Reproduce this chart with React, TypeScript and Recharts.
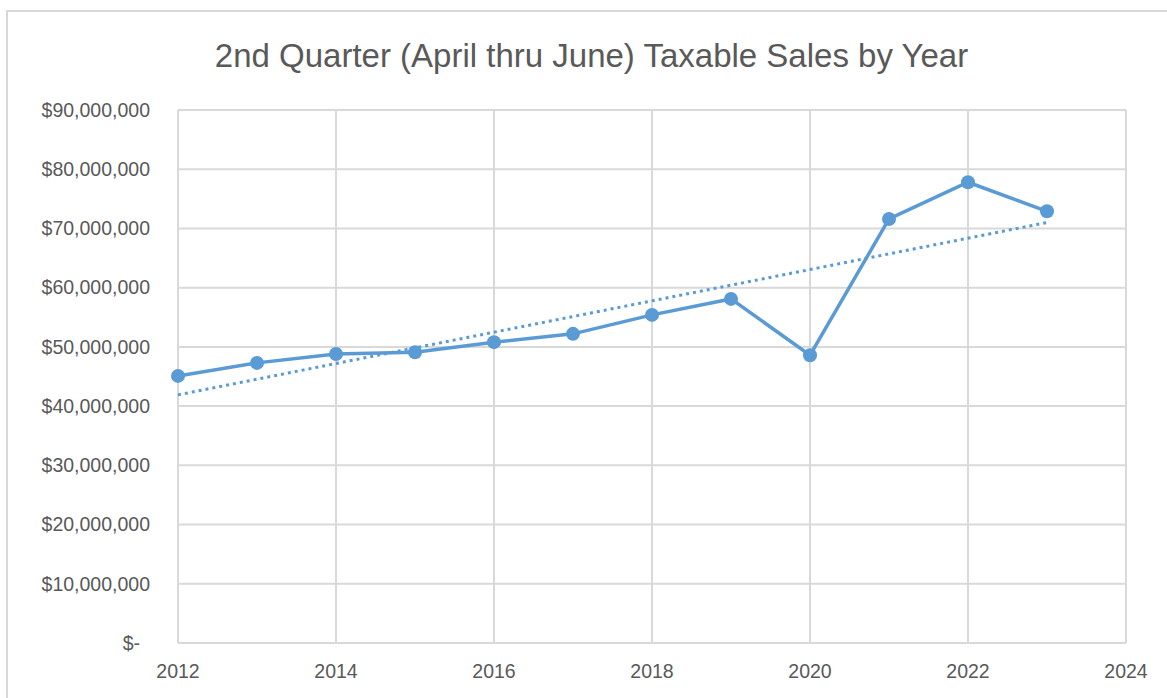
import { LineChart, Line, XAxis, YAxis, CartesianGrid } from "recharts"

const years = [2012, 2013, 2014, 2015, 2016, 2017, 2018, 2019, 2020, 2021, 2022, 2023]
const sales = [
  45100000, 47300000, 48800000, 49100000, 50800000, 52200000,
  55400000, 58100000, 48600000, 71600000, 77800000, 72900000,
]
// linear trendline: first and last year only
const trendStart = 41900000
const trendEnd = 71000000

const xTicks = [2012, 2014, 2016, 2018, 2020, 2022, 2024]
const yTicks = [0, 10000000, 20000000, 30000000, 40000000, 50000000, 60000000, 70000000, 80000000, 90000000]

const title = "2nd Quarter (April thru June) Taxable Sales by Year"

const data = years.map((year, i) => ({
  year,
  sales: sales[i],
  trend: i === 0 ? trendStart : i === years.length - 1 ? trendEnd : null,
}))

const FONT = "'Liberation Sans', Arial, sans-serif"
const TEXT = "#595959"
const GRID = "#d9d9d9"
const BLUE = "#5b9bd5"

function formatDollar(v: number) {
  if (v === 0) return "$-"
  return "$" + v.toLocaleString("en-US")
}

// eslint-disable-next-line @typescript-eslint/no-explicit-any
function YTick({ x, y, payload }: any) {
  const zero = payload.value === 0
  return (
    <text
      x={zero ? x - 10 : x}
      y={y}
      dy="0.35em"
      textAnchor="end"
      fill={TEXT}
      fontSize={19.5}
      fontFamily={FONT}
    >
      {formatDollar(payload.value)}
    </text>
  )
}

export default function App() {
  return (
    <div
      style={{
        position: "absolute",
        left: 0,
        top: 0,
        width: 1167,
        height: 698,
        overflow: "hidden",
        background: "#fff",
      }}
    >
      <div
        style={{
          position: "absolute",
          left: 6,
          top: 10,
          width: 1200,
          height: 720,
          border: `2px solid ${GRID}`,
        }}
      />
      <div
        style={{
          position: "absolute",
          left: 0,
          top: 36,
          width: 1183,
          textAlign: "center",
          fontFamily: FONT,
          fontSize: 33,
          color: TEXT,
          lineHeight: "40px",
        }}
      >
        {title}
      </div>
      <div style={{ position: "absolute", left: 0, top: 0 }}>
        <LineChart
          width={1167}
          height={698}
          data={data}
          margin={{ top: 110, right: 41, left: 8, bottom: 0 }}
        >
          <CartesianGrid stroke={GRID} strokeWidth={2} />
          <XAxis
            dataKey="year"
            type="number"
            domain={[2012, 2024]}
            ticks={xTicks}
            height={55}
            tickSize={0}
            tickMargin={21}
            axisLine={false}
            tickLine={false}
            tick={{ fill: TEXT, fontSize: 19.5, fontFamily: FONT }}
          />
          <YAxis
            type="number"
            domain={[0, 90000000]}
            ticks={yTicks}
            width={170}
            tickSize={0}
            tickMargin={28}
            axisLine={false}
            tickLine={false}
            tick={<YTick />}
          />
          <Line
            dataKey="trend"
            type="linear"
            stroke={BLUE}
            strokeWidth={3}
            strokeDasharray="3 4"
            dot={false}
            connectNulls
            isAnimationActive={false}
          />
          <Line
            dataKey="sales"
            type="linear"
            stroke={BLUE}
            strokeWidth={3.5}
            dot={{ r: 7, fill: BLUE, stroke: BLUE, strokeWidth: 0 }}
            isAnimationActive={false}
          />
        </LineChart>
      </div>
    </div>
  )
}
